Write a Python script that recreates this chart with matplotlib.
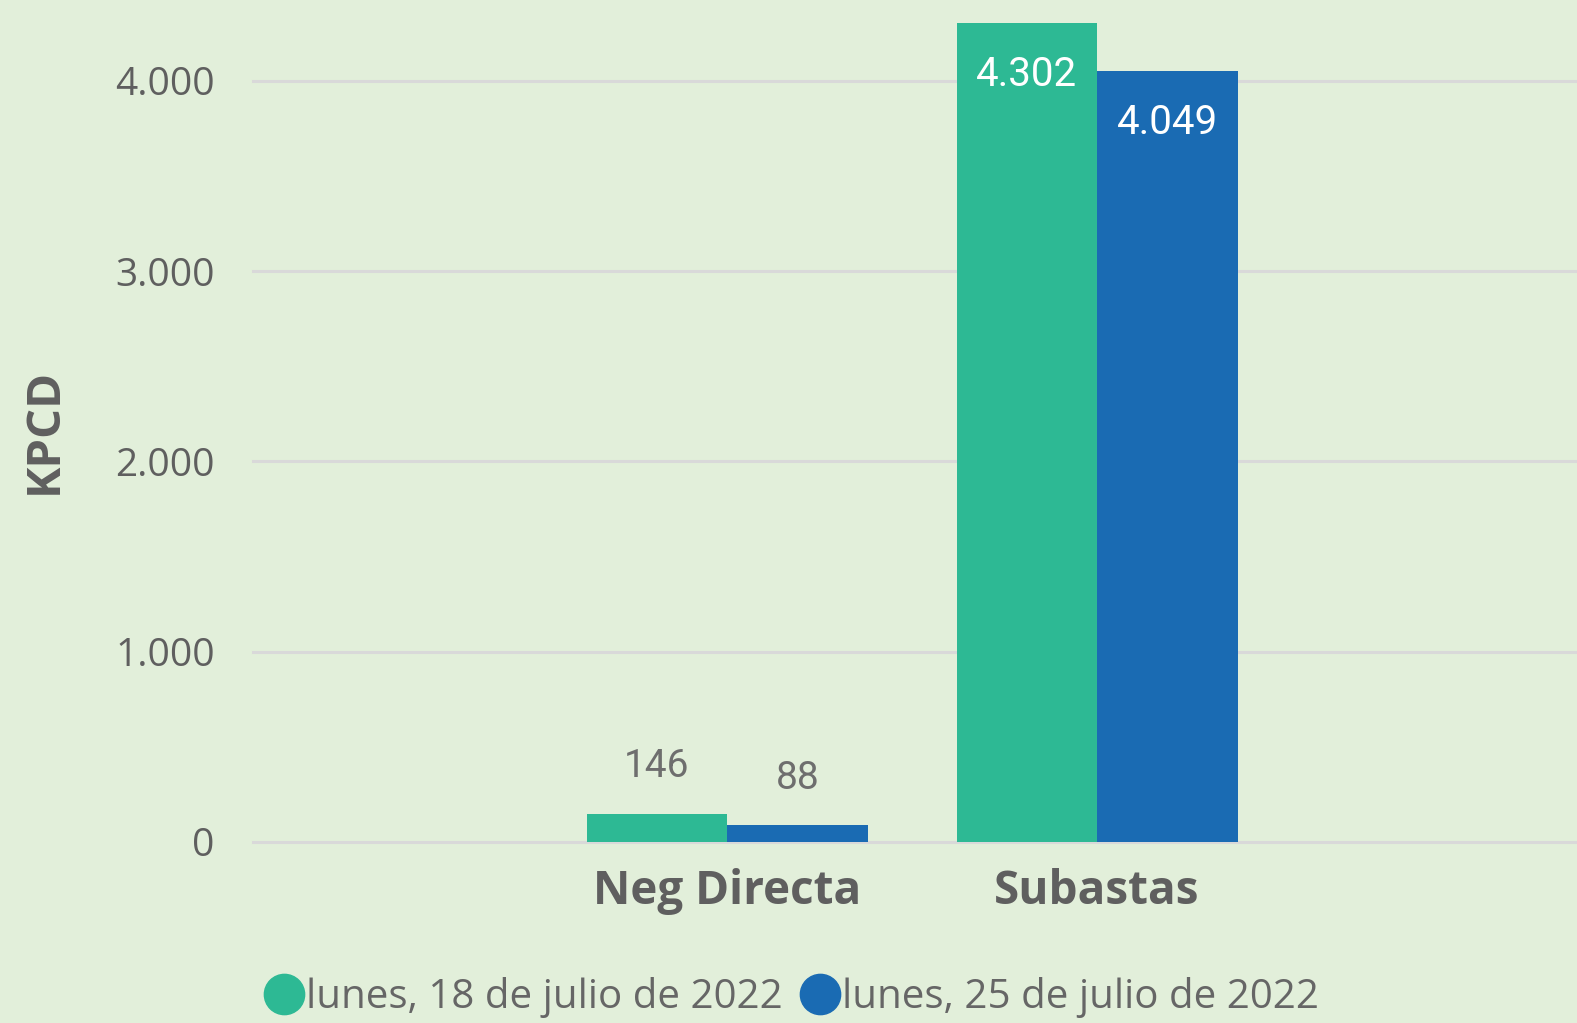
import numpy as np
import matplotlib
matplotlib.use("Agg")
from matplotlib import pyplot as plt
from matplotlib.lines import Line2D

# datos
categorias = ["Neg Directa", "Subastas"]
series = ["lunes, 18 de julio de 2022", "lunes, 25 de julio de 2022"]
valores_18 = [146, 4302]
valores_25 = [88, 4049]
yticks = [0, 1000, 2000, 3000, 4000]

verde = "#2DB994"
azul = "#1A6BB3"
fondo = "#E2EFDA"
gris = "#5F5F5F"

def fmt(v):
    return f"{v:,}".replace(",", ".")

fig = plt.figure(figsize=(15.77, 10.23), dpi=100, facecolor=fondo)
W, H = 1577, 1023
left, bottom = 253.5 / W, (H - 842) / H
ax = fig.add_axes([left, bottom, 1 - left, 842 / H])
ax.set_facecolor(fondo)

x = np.arange(len(categorias))
ancho = 0.38
b1 = ax.bar(x - ancho / 2, valores_18, ancho, color=verde, zorder=3)
b2 = ax.bar(x + ancho / 2, valores_25, ancho, color=azul, zorder=3)

ax.set_xlim(-1.28, 2.297)
ax.set_ylim(0, 4424)
ax.set_yticks(yticks)
ax.set_yticklabels([fmt(v) for v in yticks], fontsize=28, color=gris, family="Open Sans")
ax.tick_params(axis="y", length=0, pad=28)
ax.set_xticks(x)
ax.set_xticklabels(categorias, fontsize=33, fontweight="bold", color=gris, family="Open Sans")
ax.tick_params(axis="x", length=0, pad=19)
for t in ax.get_xticklabels():
    t.set_x(t.get_position()[0])
ax.grid(axis="y", color="#D9D9D9", linewidth=2.2, zorder=0)
for g in ax.get_ygridlines():
    g.set_clip_on(False)
for s in ax.spines.values():
    s.set_visible(False)

ax.set_ylabel("KPCD", fontsize=34, fontweight="bold", color=gris, family="Open Sans")
ax.yaxis.set_label_coords(-(253.5 - 68) / (W - 253.5), 0.488)

# etiquetas de datos
for barras in (b1, b2):
    for r in barras:
        v = r.get_height()
        cx = r.get_x() + r.get_width() / 2
        if v > 1000:
            ax.annotate(fmt(v), (cx, v), xytext=(0, -37), textcoords="offset points",
                        ha="center", va="center", fontsize=29, color="white", family="Roboto")
        else:
            ax.annotate(fmt(v), (cx, v), xytext=(0, 34), textcoords="offset points",
                        ha="center", va="center", fontsize=28, color="#6E6E6E", family="Roboto")

handles = [Line2D([], [], marker="o", linestyle="", markersize=29, color=c) for c in (verde, azul)]
fig.legend(handles, series, loc="center left", bbox_to_anchor=(234 / W, 1 - 998 / H),
           ncol=2, frameon=False, labelcolor="#666666",
           handlelength=0.7, handletextpad=0.2, columnspacing=0.55,
           prop={"family": "Open Sans", "size": 29})

fig.savefig("out.png", dpi=100, facecolor=fondo)
